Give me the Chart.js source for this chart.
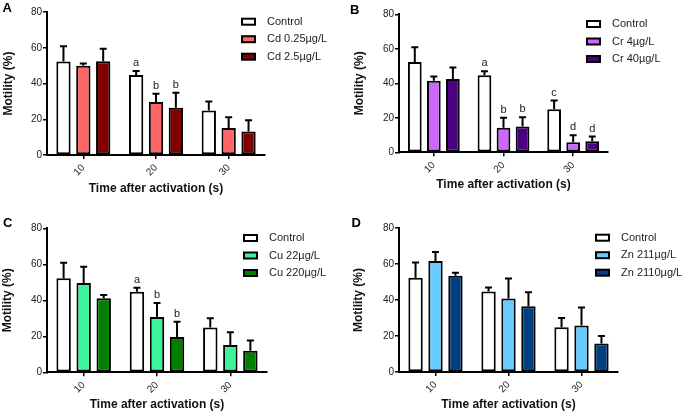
<!DOCTYPE html>
<html><head><meta charset="utf-8">
<script src="https://cdn.jsdelivr.net/npm/chart.js@4.4.0/dist/chart.umd.min.js"></script>
<style>
html,body{margin:0;padding:0;background:#fff;}
body{width:685px;height:413px;position:relative;overflow:hidden;}
.p{position:absolute;}
canvas{display:block;}
</style></head><body>
<div class="p" style="left:0;top:0"><canvas id="cA" width="340" height="205"></canvas></div>
<div class="p" style="left:340px;top:0"><canvas id="cB" width="345" height="205"></canvas></div>
<div class="p" style="left:0;top:205px"><canvas id="cC" width="340" height="208"></canvas></div>
<div class="p" style="left:340px;top:205px"><canvas id="cD" width="345" height="208"></canvas></div>
<script>
// ---- data ----
const categories = ['10', '20', '30'];
const yTicks = [0, 20, 40, 60, 80];

const control = [52.3, 44.7, 24.9];
const controlErr = [8.6, 2.3, 5.1];

const cd025 = [49.9, 29.6, 15.1];
const cd025Err = [1.3, 4.7, 6.0];
const cd25 = [52.5, 26.4, 13.2];
const cd25Err = [7.0, 8.4, 6.3];
const lettersA = { control: ['', 'a', ''], low: ['', 'b', ''], high: ['', 'b', ''] };

const cr4 = [41.5, 14.3, 5.8];
const cr4Err = [2.4, 5.8, 4.1];
const cr40 = [42.5, 14.9, 6.4];
const cr40Err = [6.6, 5.4, 2.7];
const lettersB = { control: ['', 'a', 'c'], low: ['', 'b', 'd'], high: ['', 'b', 'd'] };

const cu22 = [49.6, 30.7, 15.2];
const cu22Err = [9.1, 7.8, 7.0];
const cu220 = [41.1, 19.6, 12.0];
const cu220Err = [1.9, 8.5, 5.6];
const lettersC = { control: ['', 'a', ''], low: ['', 'b', ''], high: ['', 'b', ''] };

const zn211 = [61.7, 40.9, 25.9];
const zn211Err = [5.0, 11.0, 10.0];
const zn2110 = [53.5, 36.5, 15.9];
const zn2110Err = [1.7, 7.8, 4.1];
const lettersD = { control: ['', '', ''], low: ['', '', ''], high: ['', '', ''] };

const FONT = '"Liberation Sans", Arial, sans-serif';

const overlay = {
  id: 'overlay',
  afterDatasetsDraw(chart) {
    const ctx = chart.ctx, y = chart.scales.y;
    chart.data.datasets.forEach((ds, i) => {
      const meta = chart.getDatasetMeta(i);
      meta.data.forEach((bar, j) => {
        const v = ds.data[j], e = ds.errors[j];
        const yTop = y.getPixelForValue(v + e);
        ctx.save();
        ctx.strokeStyle = '#000'; ctx.lineWidth = 2;
        ctx.beginPath();
        ctx.moveTo(bar.x, bar.y); ctx.lineTo(bar.x, yTop);
        ctx.moveTo(bar.x - 3.5, yTop); ctx.lineTo(bar.x + 3.5, yTop);
        ctx.stroke();
        const l = ds.letters && ds.letters[j];
        if (l) {
          ctx.font = '11px ' + FONT; ctx.fillStyle = '#222';
          ctx.textAlign = 'center'; ctx.textBaseline = 'alphabetic';
          ctx.fillText(l, bar.x, yTop - 5);
        }
        ctx.restore();
      });
    });
  },
  afterDraw(chart, args, opts) {
    const ctx = chart.ctx, area = chart.chartArea;
    ctx.save();
    // legend
    const bx = area.right + opts.legendDx;
    chart.data.datasets.forEach((ds, i) => {
      const cy = area.top + 9.7 + i * 17.5;
      ctx.fillStyle = ds.backgroundColor;
      ctx.fillRect(bx + 1, cy - 3, 13, 6);
      ctx.strokeStyle = '#000'; ctx.lineWidth = 2;
      ctx.strokeRect(bx + 1, cy - 3, 13, 6);
      ctx.font = '11px ' + FONT; ctx.fillStyle = '#222';
      ctx.textAlign = 'left'; ctx.textBaseline = 'middle';
      ctx.fillText(ds.label, bx + 26, cy);
    });
    // panel letter
    ctx.font = 'bold 13px ' + FONT; ctx.fillStyle = '#000';
    ctx.textAlign = 'left'; ctx.textBaseline = 'alphabetic';
    ctx.fillText(opts.panel, opts.px, opts.py);
    ctx.restore();
  }
};

function makeChart(id, g, sets) {
  const canvas = document.getElementById(id);
  const H = canvas.height, W = canvas.width;
  return new Chart(canvas, {
    type: 'bar',
    data: {
      labels: categories,
      datasets: sets.map(s => ({
        label: s.label, data: s.data, errors: s.err, letters: s.letters,
        backgroundColor: s.color, borderColor: '#000', borderWidth: 2, borderSkipped: false,
        categoryPercentage: 0.82, barPercentage: 0.72
      }))
    },
    options: {
      responsive: false, animation: false, devicePixelRatio: 1,
      layout: { padding: { left: 0, top: g.top, right: W - g.right, bottom: 0 } },
      plugins: {
        legend: { display: false }, tooltip: { enabled: false },
        overlay: { legendDx: g.legendDx, panel: g.panel, px: g.px, py: g.py }
      },
      scales: {
        x: {
          grid: { display: true, drawOnChartArea: false, offset: false, tickLength: 4, color: '#000', lineWidth: 1.5 },
          border: { color: '#000', width: 2 },
          ticks: { color: '#222', font: { family: FONT, size: 10 }, minRotation: 45, maxRotation: 45, padding: 3 },
          title: { display: true, text: 'Time after activation (s)', color: '#111',
                   font: { family: FONT, size: 12, weight: 'bold' },
                   padding: { top: 0, bottom: H - g.xTitle - 7.2 } },
          afterFit: (s) => { s.height = H - g.bottom; }
        },
        y: {
          min: 0, max: 80,
          afterBuildTicks: (s) => { s.ticks = yTicks.map(v => ({ value: v })); },
          grid: { display: true, drawOnChartArea: false, tickLength: 4, color: '#000', lineWidth: 1.5 },
          border: { color: '#000', width: 2 },
          ticks: { color: '#222', font: { family: FONT, size: 10 }, padding: 1 },
          title: { display: true, text: 'Motility (%)', color: '#111',
                   font: { family: FONT, size: 12, weight: 'bold' },
                   padding: { top: g.yTitlePad, bottom: 0 } },
          afterFit: (s) => { s.width = g.left; }
        }
      }
    },
    plugins: [overlay]
  });
}

makeChart('cA', { left: 47, right: 265, top: 12, bottom: 155, xTitle: 189, yTitlePad: 1.3, legendDx: -24, panel: 'A', px: 2.5, py: 12.3 }, [
  { label: 'Control', data: control, err: controlErr, letters: lettersA.control, color: '#FFFFFF' },
  { label: 'Cd 0.25µg/L', data: cd025, err: cd025Err, letters: lettersA.low, color: '#FF6666' },
  { label: 'Cd 2.5µg/L', data: cd25, err: cd25Err, letters: lettersA.high, color: '#800000' }
]);
makeChart('cB', { left: 59, right: 268, top: 14.3, bottom: 152.3, xTitle: 185, yTitlePad: 12.8, legendDx: -22, panel: 'B', px: 10, py: 14 }, [
  { label: 'Control', data: control, err: controlErr, letters: lettersB.control, color: '#FFFFFF' },
  { label: 'Cr 4µg/L', data: cr4, err: cr4Err, letters: lettersB.low, color: '#CC66FF' },
  { label: 'Cr 40µg/L', data: cr40, err: cr40Err, letters: lettersB.high, color: '#4B0082' }
]);
makeChart('cC', { left: 47, right: 267, top: 23.3, bottom: 167.3, xTitle: 200, yTitlePad: 0, legendDx: -24, panel: 'C', px: 3, py: 21.7 }, [
  { label: 'Control', data: control, err: controlErr, letters: lettersC.control, color: '#FFFFFF' },
  { label: 'Cu 22µg/L', data: cu22, err: cu22Err, letters: lettersC.low, color: '#3CF59A' },
  { label: 'Cu 220µg/L', data: cu220, err: cu220Err, letters: lettersC.high, color: '#008000' }
]);
makeChart('cD', { left: 59, right: 278, top: 23, bottom: 167, xTitle: 200, yTitlePad: 11.1, legendDx: -23, panel: 'D', px: 11.5, py: 21.7 }, [
  { label: 'Control', data: control, err: controlErr, letters: lettersD.control, color: '#FFFFFF' },
  { label: 'Zn 211µg/L', data: zn211, err: zn211Err, letters: lettersD.low, color: '#66CCFF' },
  { label: 'Zn 2110µg/L', data: zn2110, err: zn2110Err, letters: lettersD.high, color: '#004080' }
]);
</script>
</body></html>
